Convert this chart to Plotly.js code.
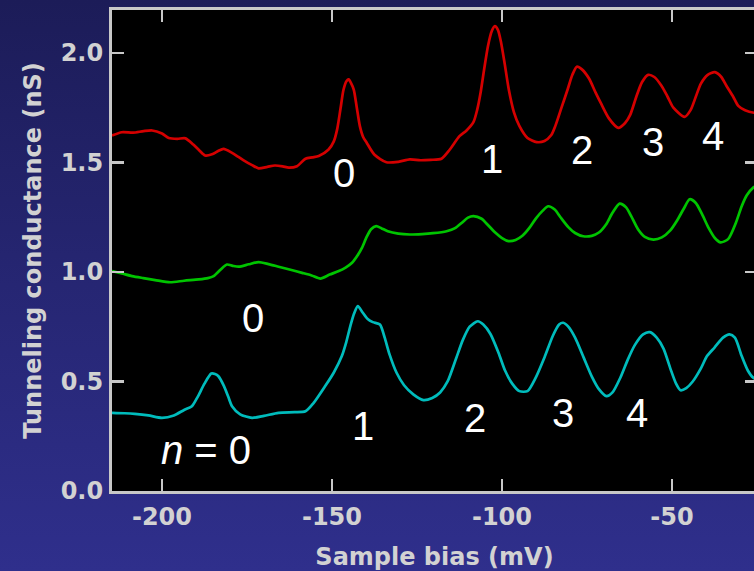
<!DOCTYPE html>
<html>
<head>
<meta charset="utf-8">
<script src="https://cdn.plot.ly/plotly-3.0.1.min.js"></script>
<style>
  html, body { margin: 0; padding: 0; overflow: hidden; width: 754px; height: 571px; }
  body { background: linear-gradient(to bottom, #1c1c58 0%, #262673 50%, #2f2f8c 100%); }
  #plot { width: 760px; height: 571px; }
</style>
</head>
<body>
<div id="plot"></div>
<script>
// Sample bias (mV) and tunneling conductance (nS) for three spectra
const redBias = [-214.7,-211.8,-208.5,-205.4,-202.9,-200.0,-198.0,-195.5,-193.1,-190.8,-189.0,-187.3,-185.3,-183.5,-181.9,-179.4,-177.5,-175.6,-173.5,-171.6,-169.0,-166.8,-164.5,-162.7,-160.3,-157.8,-155.8,-153.9,-151.0,-149.5,-148.5,-147.5,-146.6,-145.7,-145.1,-144.4,-143.6,-142.7,-141.8,-140.8,-139.8,-137.5,-134.0,-130.5,-127.1,-124.0,-121.0,-117.8,-115.4,-112.5,-110.5,-108.4,-107.3,-106.3,-105.2,-104.1,-103.0,-102.1,-101.2,-100.3,-99.2,-98.0,-96.5,-94.9,-92.5,-89.8,-87.5,-85.5,-84.3,-82.5,-80.7,-79.3,-78.0,-76.5,-74.4,-72.5,-70.8,-68.5,-65.8,-63.8,-62.3,-60.5,-58.8,-57.0,-55.2,-53.1,-51.3,-49.6,-46.3,-44.5,-43.0,-41.5,-39.5,-37.4,-35.5,-34.0,-32.0,-30.5,-28.5,-25.9,-25.0];
const redG = [1.623,1.638,1.636,1.643,1.646,1.632,1.612,1.608,1.610,1.582,1.555,1.532,1.537,1.552,1.562,1.544,1.525,1.506,1.488,1.473,1.480,1.486,1.482,1.476,1.483,1.517,1.523,1.529,1.559,1.595,1.650,1.745,1.833,1.872,1.879,1.862,1.833,1.750,1.666,1.615,1.590,1.535,1.501,1.503,1.514,1.510,1.512,1.517,1.558,1.620,1.645,1.684,1.740,1.818,1.930,2.033,2.100,2.122,2.105,2.050,1.950,1.833,1.730,1.667,1.612,1.593,1.598,1.625,1.667,1.750,1.833,1.900,1.937,1.925,1.883,1.820,1.767,1.700,1.658,1.680,1.717,1.800,1.867,1.900,1.890,1.850,1.800,1.750,1.708,1.740,1.800,1.860,1.900,1.912,1.890,1.850,1.800,1.758,1.738,1.727,1.727];

const greenBias = [-214.7,-211.8,-208.8,-205.5,-202.0,-197.6,-193.5,-189.2,-186.5,-184.8,-182.8,-180.9,-179.2,-177.4,-174.5,-171.6,-168.7,-165.7,-162.2,-158.8,-156.0,-153.4,-150.7,-148.0,-146.0,-144.1,-142.5,-141.2,-139.8,-138.5,-137.0,-135.5,-133.6,-130.5,-127.1,-123.5,-120.3,-116.3,-113.8,-111.8,-110.0,-108.4,-106.0,-104.5,-102.0,-100.0,-98.1,-96.0,-94.0,-92.0,-90.0,-88.0,-86.4,-84.5,-82.8,-80.5,-78.5,-76.1,-73.6,-71.5,-69.4,-67.5,-65.4,-63.5,-62.0,-60.0,-58.0,-55.5,-53.0,-50.5,-48.5,-46.5,-44.8,-43.0,-41.2,-39.2,-37.4,-35.7,-33.5,-31.2,-29.5,-28.0,-26.1,-25.0];
const greenG = [1.004,0.993,0.981,0.972,0.963,0.953,0.960,0.966,0.972,0.981,1.010,1.034,1.028,1.024,1.035,1.045,1.036,1.024,1.010,0.996,0.984,0.970,0.988,1.004,1.020,1.042,1.075,1.110,1.160,1.195,1.209,1.200,1.186,1.175,1.171,1.173,1.177,1.186,1.200,1.225,1.248,1.255,1.243,1.220,1.180,1.155,1.141,1.146,1.165,1.200,1.245,1.280,1.300,1.285,1.250,1.205,1.178,1.163,1.165,1.180,1.217,1.270,1.312,1.295,1.255,1.195,1.160,1.148,1.158,1.190,1.235,1.290,1.332,1.315,1.265,1.200,1.155,1.135,1.150,1.225,1.300,1.350,1.385,1.395];

const cyanBias = [-214.7,-211.0,-208.0,-204.0,-200.0,-196.5,-193.5,-191.2,-189.5,-187.5,-185.5,-184.4,-183.4,-181.8,-180.5,-179.4,-177.0,-173.5,-170.0,-165.7,-161.0,-157.8,-155.5,-152.0,-149.5,-147.1,-145.8,-144.6,-143.5,-142.4,-141.0,-139.5,-138.0,-135.9,-134.5,-133.1,-131.0,-128.8,-126.0,-123.1,-120.5,-118.2,-116.0,-113.5,-111.5,-109.5,-107.1,-105.5,-103.4,-101.0,-99.1,-97.0,-94.9,-92.5,-90.0,-87.5,-85.0,-83.2,-82.0,-80.5,-78.5,-76.0,-73.5,-71.5,-69.3,-67.5,-65.2,-63.0,-60.9,-58.5,-56.5,-54.5,-52.5,-50.5,-48.8,-47.5,-45.8,-43.9,-41.5,-39.7,-37.5,-35.0,-33.1,-31.5,-29.5,-27.7,-26.1,-25.0];
const cyanG = [0.357,0.355,0.352,0.345,0.334,0.345,0.370,0.387,0.430,0.490,0.536,0.534,0.524,0.480,0.430,0.387,0.350,0.334,0.343,0.357,0.360,0.364,0.400,0.479,0.540,0.616,0.680,0.753,0.810,0.844,0.815,0.785,0.771,0.760,0.700,0.625,0.540,0.483,0.440,0.415,0.425,0.450,0.500,0.605,0.690,0.750,0.775,0.760,0.717,0.630,0.550,0.490,0.456,0.456,0.520,0.610,0.710,0.760,0.768,0.750,0.700,0.610,0.520,0.465,0.433,0.450,0.517,0.600,0.667,0.715,0.725,0.700,0.650,0.560,0.490,0.460,0.470,0.500,0.560,0.616,0.655,0.700,0.715,0.700,0.616,0.550,0.517,0.510];

// Landau level index labels placed beside the peaks
const levelText = ['0','1','2','3','4','0','<i>n</i> = 0','1','2','3','4'];
const levelBias = [-146.4,-103.0,-76.6,-55.7,-38.0,-173.1,-187.2,-140.8,-107.9,-82.2,-60.3];
const levelG    = [1.453,1.514,1.556,1.593,1.620,0.791,0.189,0.296,0.334,0.358,0.358];

const xTickVals = [-200,-150,-100,-50];
const xTickText = ['-200','-150','-100','-50'];
const yTickVals = [0,0.5,1.0,1.5,2.0];
const yTickText = ['0.0','0.5','1.0','1.5','2.0'];

const lineStyle = (c) => ({color: c, width: 2.7, shape: 'spline', smoothing: 0.7});

const traces = [
  {x: redBias, y: redG, mode: 'lines', line: lineStyle('#d40000'), hoverinfo: 'skip'},
  {x: greenBias, y: greenG, mode: 'lines', line: lineStyle('#00c400'), hoverinfo: 'skip'},
  {x: cyanBias, y: cyanG, mode: 'lines', line: lineStyle('#00bcbc'), hoverinfo: 'skip'}
];

const axisFont = {family: 'DejaVu Sans, sans-serif', size: 24, color: '#d2d2d2', weight: 'bold'};
const frame = '#c8c8c8';

const annotations = levelText.map((t, i) => ({
  x: levelBias[i], y: levelG[i], xref: 'x', yref: 'y',
  text: t, showarrow: false, xanchor: 'center', yanchor: 'middle',
  font: {family: 'Liberation Sans, Arial, sans-serif', size: 40, color: '#ffffff'}
}));

const layout = {
  width: 760, height: 571,
  margin: {l: 112, r: 3, t: 10, b: 80, pad: 0},
  paper_bgcolor: 'rgba(0,0,0,0)',
  plot_bgcolor: '#000000',
  showlegend: false,
  xaxis: {
    range: [-214.7, -25.0],
    tickmode: 'array', tickvals: xTickVals, ticktext: xTickText,
    ticks: 'inside', ticklen: 12, tickwidth: 2.5, tickcolor: frame,
    showline: true, linecolor: frame, linewidth: 3, mirror: 'ticks',
    showgrid: false, zeroline: false,
    tickfont: axisFont, ticklabelstandoff: 2,
    title: {text: 'Sample bias (mV)', font: axisFont, standoff: 19}
  },
  yaxis: {
    range: [0, 2.196],
    tickmode: 'array', tickvals: yTickVals, ticktext: yTickText,
    ticks: 'inside', ticklen: 12, tickwidth: 2.5, tickcolor: frame,
    showline: true, linecolor: frame, linewidth: 3, mirror: 'ticks',
    showgrid: false, zeroline: false,
    tickfont: axisFont, ticklabelstandoff: 1,
    title: {text: 'Tunneling conductance (nS)', font: axisFont, standoff: 13}
  },
  annotations: annotations
};

Plotly.newPlot('plot', traces, layout, {staticPlot: true, displayModeBar: false});
</script>
</body>
</html>
